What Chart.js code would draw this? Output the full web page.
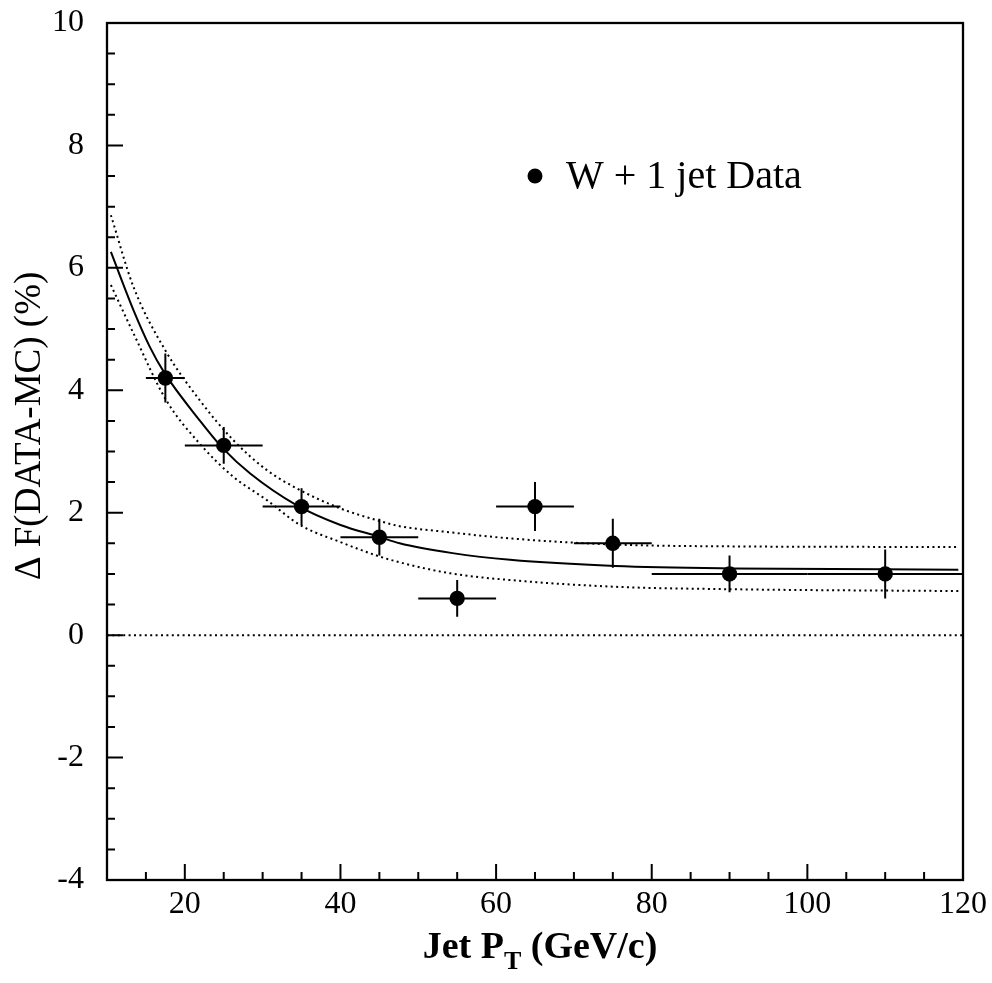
<!DOCTYPE html>
<html>
<head>
<meta charset="utf-8">
<script src="https://cdn.jsdelivr.net/npm/chart.js@4/dist/chart.umd.min.js"></script>
<style>
  html, body { margin: 0; padding: 0; background: #fff; }
  #wrap { width: 992px; height: 983px; }
</style>
</head>
<body>
<div id="wrap"><canvas id="myChart" width="992" height="983"></canvas></div>
<script>
// W + 1 jet data points
const ptX = [17.5, 25, 35, 45, 55, 65, 75, 90, 110];
const ptY = [4.2, 3.1, 2.1, 1.6, 0.6, 2.1, 1.5, 1.0, 1.0];
const binLow = [15, 20, 30, 40, 50, 60, 70, 80, 100];
const binHigh = [20, 30, 40, 50, 60, 70, 80, 100, 120];
const yErr = [0.4, 0.3, 0.3, 0.3, 0.3, 0.4, 0.4, 0.3, 0.4];

// fit curve (solid)
const fitX = [10.5, 13.4, 15.5, 17.4, 21.9, 24.9, 28.4, 34.4, 40, 44.9, 47.6, 54.4, 61.8, 75.3, 90.2, 119.4];
const fitY = [6.26, 5.31, 4.71, 4.28, 3.51, 3.05, 2.64, 2.12, 1.80, 1.61, 1.50, 1.34, 1.23, 1.13, 1.09, 1.07];

// fit uncertainty band (dotted)
const hiX = [10.5, 13.4, 17.6, 21.9, 26.2, 30.5, 34.8, 40, 44.9, 47.6, 54.1, 61.8, 75.3, 90.2, 119.4];
const hiY = [6.86, 5.69, 4.63, 3.84, 3.19, 2.70, 2.37, 2.07, 1.87, 1.78, 1.68, 1.58, 1.48, 1.45, 1.44];
const loX = [10.5, 13.4, 17.6, 21.9, 26.2, 30.5, 34.8, 40, 44.9, 47.6, 54.1, 61.8, 75.3, 90.2, 119.4];
const loY = [5.72, 4.93, 3.84, 3.13, 2.59, 2.21, 1.80, 1.52, 1.29, 1.19, 1.01, 0.90, 0.79, 0.75, 0.72];

// zero reference line
const zeroX = [10, 120];
const zeroY = [0, 0];

// axis tick labels
const xTicks = [20, 40, 60, 80, 100, 120];
const yTicks = [-4, -2, 0, 2, 4, 6, 8, 10];

const serif = '"Liberation Serif", "Times New Roman", serif';

function toXY(xs, ys) {
    return xs.map((v, i) => ({ x: v, y: ys[i] }));
}

// frame, inward ticks, error bars, legend and axis titles
const decorations = {
    id: 'decorations',
    beforeDatasetsDraw(chart) {
        const { ctx, scales: { x, y } } = chart;
        ctx.save();
        ctx.strokeStyle = '#000';
        ctx.lineWidth = 2;
        ptX.forEach((v, i) => {
            const py = y.getPixelForValue(ptY[i]);
            const px = x.getPixelForValue(v);
            ctx.beginPath();
            ctx.moveTo(x.getPixelForValue(binLow[i]), py);
            ctx.lineTo(x.getPixelForValue(binHigh[i]), py);
            ctx.moveTo(px, y.getPixelForValue(ptY[i] - yErr[i]));
            ctx.lineTo(px, y.getPixelForValue(ptY[i] + yErr[i]));
            ctx.stroke();
        });
        ctx.restore();
    },
    afterDraw(chart) {
        const { ctx, chartArea: a, scales: { x, y } } = chart;
        ctx.save();
        ctx.strokeStyle = '#000';
        ctx.lineWidth = 2.3;
        ctx.strokeRect(a.left, a.top, a.right - a.left, a.bottom - a.top);

        // y ticks: major every 2, minor every 0.5
        ctx.lineWidth = 2;
        ctx.beginPath();
        for (let v = -4; v <= 10.001; v += 0.5) {
            const py = y.getPixelForValue(v);
            const len = Math.abs(v % 2) < 0.001 ? 16 : 8;
            ctx.moveTo(a.left, py);
            ctx.lineTo(a.left + len, py);
        }
        // x ticks: major every 20, minor every 5
        for (let v = 15; v <= 120; v += 5) {
            const px = x.getPixelForValue(v);
            const len = v % 20 === 0 ? 16 : 8;
            ctx.moveTo(px, a.bottom);
            ctx.lineTo(px, a.bottom - len);
        }
        ctx.stroke();

        // legend
        ctx.fillStyle = '#000';
        ctx.beginPath();
        ctx.arc(535, 176, 7.5, 0, Math.PI * 2);
        ctx.fill();
        ctx.font = '40px ' + serif;
        ctx.textAlign = 'left';
        ctx.textBaseline = 'alphabetic';
        ctx.fillText('W + 1 jet Data', 566, 188);

        // y title
        ctx.save();
        ctx.translate(30, 426);
        ctx.rotate(-Math.PI / 2);
        ctx.font = '37px ' + serif;
        ctx.textAlign = 'center';
        ctx.textBaseline = 'middle';
        ctx.fillText('\u0394 F(DATA-MC) (%)', 0, 0);
        ctx.restore();

        // x title with subscript
        const big = 'bold 38px ' + serif;
        const small = 'bold 26px ' + serif;
        const p1 = 'Jet P', p2 = 'T', p3 = ' (GeV/c)';
        ctx.font = big;
        const w1 = ctx.measureText(p1).width, w3 = ctx.measureText(p3).width;
        ctx.font = small;
        const w2 = ctx.measureText(p2).width;
        let tx = 540 - (w1 + w2 + w3) / 2;
        const base = 958;
        ctx.font = big;
        ctx.fillText(p1, tx, base);
        tx += w1;
        ctx.font = small;
        ctx.fillText(p2, tx, base + 11);
        tx += w2;
        ctx.font = big;
        ctx.fillText(p3, tx, base);
        ctx.restore();
    }
};

const dotted = { borderColor: '#000', borderWidth: 2, borderDash: [2, 3.4], pointRadius: 0, showLine: true, fill: false };

const config = {
    type: 'scatter',
    data: {
        datasets: [
            { label: 'zero', data: toXY(zeroX, zeroY), ...dotted },
            { label: 'band high', data: toXY(hiX, hiY), ...dotted, cubicInterpolationMode: 'monotone' },
            { label: 'band low', data: toXY(loX, loY), ...dotted, cubicInterpolationMode: 'monotone' },
            {
                label: 'fit', data: toXY(fitX, fitY), showLine: true, borderColor: '#000', borderWidth: 2,
                pointRadius: 0, cubicInterpolationMode: 'monotone', fill: false
            },
            {
                label: 'W + 1 jet Data', data: toXY(ptX, ptY), pointRadius: 7.7, pointHoverRadius: 7.7,
                backgroundColor: '#000', borderColor: '#000', borderWidth: 0
            }
        ]
    },
    options: {
        responsive: false,
        animation: false,
        devicePixelRatio: 1,
        layout: { padding: { top: 23, right: 29, left: 0, bottom: 0 } },
        plugins: { legend: { display: false }, tooltip: { enabled: false } },
        scales: {
            x: {
                type: 'linear', min: 10, max: 120,
                grid: { display: false, drawTicks: false },
                border: { display: false },
                afterBuildTicks: (s) => { s.ticks = xTicks.map(v => ({ value: v })); },
                afterFit: (s) => { s.height = 103; s.paddingLeft = 0; s.paddingRight = 0; },
                ticks: { color: '#000', padding: 5, maxRotation: 0, font: { family: serif, size: 32 } }
            },
            y: {
                type: 'linear', min: -4, max: 10,
                grid: { display: false, drawTicks: false },
                border: { display: false },
                afterBuildTicks: (s) => { s.ticks = yTicks.map(v => ({ value: v })); },
                afterFit: (s) => { s.width = 107; s.paddingTop = 0; s.paddingBottom = 0; },
                ticks: { color: '#000', padding: 23, font: { family: serif, size: 32 } }
            }
        }
    },
    plugins: [decorations]
};

let ctx = document.getElementById('myChart').getContext('2d');
var myChart = new Chart(ctx, config);
</script>
</body>
</html>
